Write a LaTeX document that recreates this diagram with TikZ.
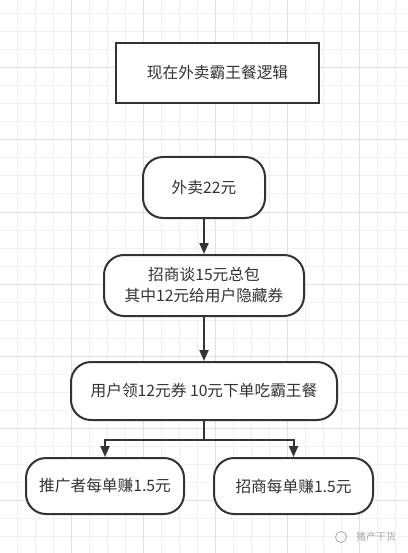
\documentclass[tikz,border=0pt]{standalone}
\usepackage{fontspec}
\setmainfont{Noto Sans CJK SC}
\usetikzlibrary{arrows.meta}
\definecolor{ink}{HTML}{333333}
\definecolor{gridminor}{HTML}{F0F0F0}
\definecolor{gridmajor}{HTML}{E0E0E0}
\definecolor{wm}{HTML}{A8A8A8}
\begin{document}
\begin{tikzpicture}[x=1pt,y=-1pt,
  base/.style={draw=ink, line width=2pt, fill=white, text=ink,
    font=\fontsize{15.7}{21}\selectfont, align=center, inner sep=0pt},
  titlebox/.style={base, line width=2.6pt},
  roundbox/.style={base, rounded corners=20pt},
  conn/.style={draw=ink, line width=2pt},
  arr/.style={conn, -{Triangle[length=11pt,width=9pt]}},
  minorline/.style={draw=gridminor, line width=1pt},
  majorline/.style={draw=gridmajor, line width=1pt}]
% page and grid
\fill[white] (0,0) rectangle (407,553);
\useasboundingbox (0,0) rectangle (407,553);
\begin{scope}
\clip (0,0) rectangle (407,553);
\foreach \k in {0,...,23} {\draw[minorline] ({-1+18*\k},0) -- ({-1+18*\k},553);}
\foreach \k in {0,...,30} {\draw[minorline] (0,{14+18*\k}) -- (407,{14+18*\k});}
\foreach \k in {0,...,5} {\draw[majorline] ({-1+72*\k},0) -- ({-1+72*\k},553);}
\foreach \k in {0,...,6} {\draw[majorline] (0,{68+72*\k}) -- (407,{68+72*\k});}
\end{scope}
% nodes
\node[titlebox, minimum width=203pt, minimum height=60pt] (t) at (217.5,73) {现在外卖霸王餐逻辑};
\node[roundbox, minimum width=122pt, minimum height=61pt] (b1) at (204,187.5) {外卖22元};
\node[roundbox, minimum width=200pt, minimum height=61pt] (b2) at (204,285.5) {招商谈15元总包\\其中12元给用户隐藏券};
\node[roundbox, minimum width=266pt, minimum height=58pt] (b3) at (204,391) {用户领12元券 10元下单吃霸王餐};
\node[roundbox, minimum width=158pt, minimum height=56pt] (l) at (105,486) {推广者每单赚1.5元};
\node[roundbox, minimum width=159pt, minimum height=56pt] (r) at (293.5,486) {招商每单赚1.5元};
\coordinate (j) at (204,440);
% connectors
\draw[arr] (b1) -- (b2);
\draw[arr] (b2) -- (b3);
\draw[conn] (b3.south) -- (j);
\draw[arr] (j) -| (l.north);
\draw[arr] (j) -| (r.north);
% watermark
\node[draw=wm, circle, line width=0.8pt, minimum size=11pt, inner sep=0pt] (wi) at (341,537) {};
\node[text=wm, font=\fontsize{10}{12}\selectfont, anchor=west, inner sep=0pt] (wt) at (356,537) {猪产干货};
\end{tikzpicture}
\end{document}
